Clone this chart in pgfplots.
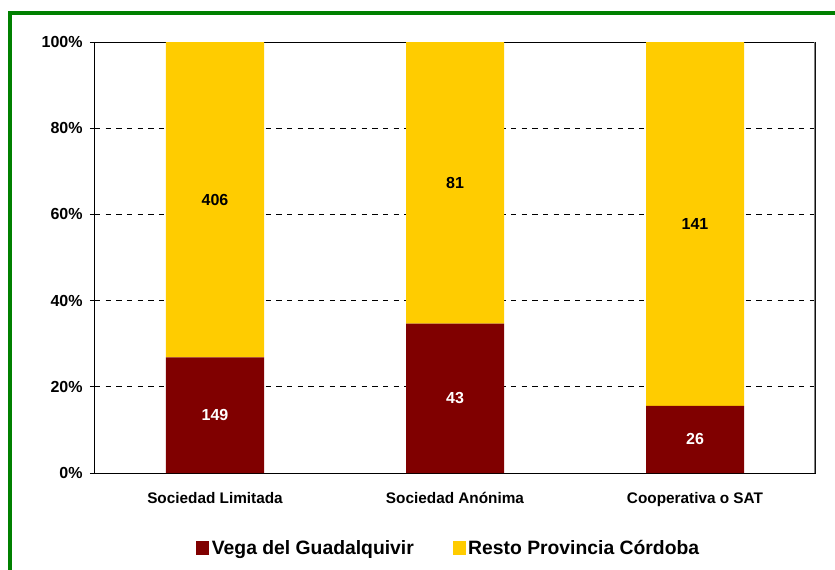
\documentclass[border=0pt]{standalone}
\usepackage{pgfplots}
\pgfplotsset{compat=1.18}
\usepackage{fontspec}
\setmainfont{Liberation Sans}
\definecolor{vega}{RGB}{128,0,0}
\definecolor{resto}{RGB}{255,204,0}
\definecolor{frame}{RGB}{0,128,0}
\begin{document}
\begin{tikzpicture}
\begin{axis}[
  at={(0,0)}, anchor=south west,
  scale only axis, width=540pt, height=323.25pt,
  ybar stacked, bar width=73.5pt,
  xmin=-0.5, xmax=2.5, ymin=0, ymax=100,
  xtick={0,1,2},
  xticklabels={Sociedad Limitada, Sociedad Anónima, Cooperativa o SAT},
  x tick label style={font=\fontsize{11.5}{13}\selectfont\bfseries, yshift=-7.5pt},
  major x tick style={draw=none},
  extra x ticks={-0.5,0.5,1.5,2.5}, extra x tick labels={},
  extra x tick style={tick style={black, line width=0.75pt}, major tick length=3.75pt},
  ytick={0,20,40,60,80,100},
  yticklabels={0\%,20\%,40\%,60\%,80\%,100\%},
  y tick label style={font=\fontsize{12}{14}\selectfont\bfseries, xshift=-2pt},
  tick align=outside, major tick length=3.75pt,
  tick style={black, line width=0.75pt},
  xtick pos=bottom, ytick pos=left,
  ymajorgrids, grid style={black, line width=0.6pt, dash pattern=on 4pt off 4pt},
  axis line style={black, line width=0.75pt},
  legend style={at={(0.4917,-0.174)}, anchor=center, draw=none, legend columns=2,
    font=\fontsize{14.5}{17}\selectfont\bfseries,
    /tikz/every even column/.append style={column sep=27pt}},
  legend image code/.code={\fill[#1] (0pt,-4.9pt) rectangle (9.75pt,4.9pt);},
]
\addplot[fill=vega, draw=none]
  coordinates {(0,26.847) (1,34.677) (2,15.569)};
\addplot[fill=resto, draw=none]
  coordinates {(0,73.153) (1,65.323) (2,84.431)};
\legend{Vega del Guadalquivir, Resto Provincia Córdoba}
\draw[black!50, line width=1pt] (rel axis cs:1,0) -- (rel axis cs:1,1);
\draw[black, line width=0.75pt] (rel axis cs:0,1) -- (rel axis cs:1,1);
\end{axis}
\begin{axis}[
  at={(0,0)}, anchor=south west,
  scale only axis, width=540pt, height=323.25pt,
  xmin=-0.5, xmax=2.5, ymin=0, ymax=100,
  hide axis,
  point meta=explicit symbolic,
  nodes near coords,
  every node near coord/.append style={font=\fontsize{12}{14}\selectfont\bfseries, anchor=center},
]
\addplot[only marks, mark=none, every node near coord/.append style={text=white}]
  coordinates {(0,13.42)[149] (1,17.34)[43] (2,7.78)[26]};
\addplot[only marks, mark=none, every node near coord/.append style={text=black}]
  coordinates {(0,63.42)[406] (1,67.34)[81] (2,57.78)[141]};
\end{axis}
\draw[frame, line width=3pt] (-63.75pt,-80pt) -- (-63.75pt,345pt) -- (560pt,345pt);
\pgfresetboundingbox
\useasboundingbox (-71.25pt,-72pt) rectangle (555pt,354.75pt);
\end{tikzpicture}
\end{document}
